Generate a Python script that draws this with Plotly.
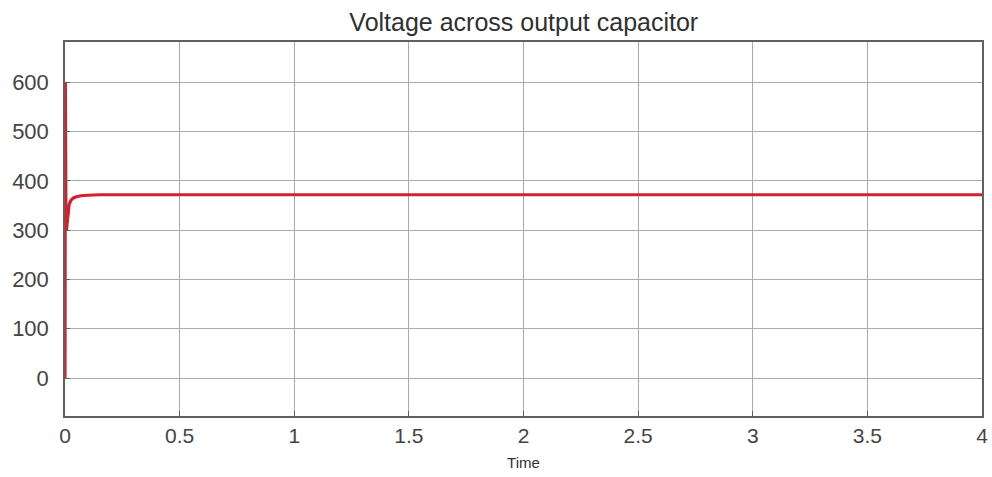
import plotly.graph_objects as go

time = [0, 0.0015, 0.0025, 0.004, 0.006, 0.009, 0.013, 0.018, 0.025, 0.035, 0.05, 0.07, 0.1, 0.15, 0.3, 0.6, 1.0, 1.5, 2.0, 2.5, 3.0, 3.5, 4.0]
voltage = [0, 600, 450, 330, 300, 318, 340, 352, 360, 365, 368, 370, 371, 372, 372, 372, 372, 372, 372, 372, 372, 372, 372]

x_ticks = [0, 0.5, 1, 1.5, 2, 2.5, 3, 3.5, 4]
x_tick_labels = ["0", "0.5", "1", "1.5", "2", "2.5", "3", "3.5", "4"]
y_ticks = [0, 100, 200, 300, 400, 500, 600]

fig = go.Figure()
fig.add_trace(go.Scatter(x=time, y=voltage, mode="lines",
                         line=dict(color="#d4202e", width=3.2), showlegend=False))

fig.update_layout(
    width=992, height=477,
    margin=dict(l=65, r=10, t=42, b=61),
    paper_bgcolor="white", plot_bgcolor="white",
    font=dict(family="Liberation Sans, Arial", color="#404040"),
    title=dict(text="Voltage across output capacitor", x=0.528, xanchor="center",
               xref="container", y=0.953, yanchor="middle",
               font=dict(size=25, color="#303030")),
    xaxis=dict(range=[0, 4], tickvals=x_ticks, ticktext=x_tick_labels, automargin=False,
               ticklabeloverflow="allow",
               showgrid=True, gridcolor="#ababab", gridwidth=1,
               showline=True, linecolor="#606060", linewidth=1.5, mirror=True,
               ticks="inside", ticklen=5, tickcolor="#606060",
               tickfont=dict(size=21, color="#444444"), zeroline=False,
               title=dict(text="Time", font=dict(size=15, color="#303030"), standoff=12)),
    yaxis=dict(range=[-77, 682], tickvals=y_ticks, automargin=False,
               ticklabeloverflow="allow",
               showgrid=True, gridcolor="#ababab", gridwidth=1,
               showline=True, linecolor="#606060", linewidth=1.5, mirror=True,
               ticks="inside", ticklen=5, tickcolor="#606060", ticklabelstandoff=10,
               tickfont=dict(size=22, color="#444444"), zeroline=False),
)

fig.write_html("out.html", config={"displayModeBar": False},
               post_script="document.body.style.margin='0';document.body.style.overflow='hidden';")
